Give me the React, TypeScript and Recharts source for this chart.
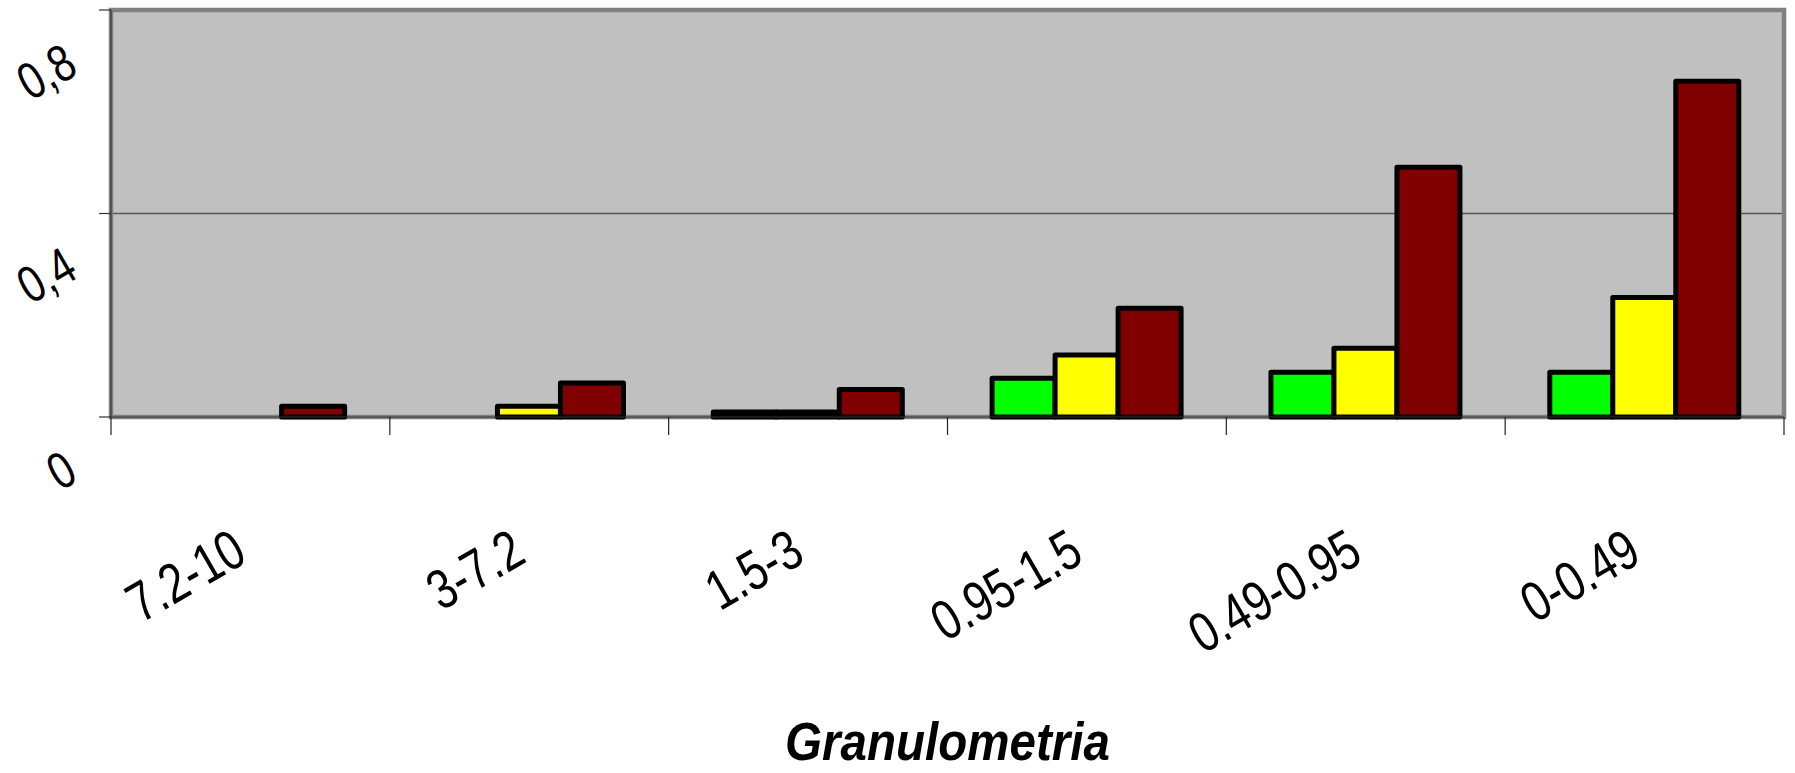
import { Bar, BarChart, CartesianGrid, Label, ReferenceArea, XAxis, YAxis } from "recharts";

// size classes (Granulometria), left to right
const categories = ["7.2-10", "3-7.2", "1.5-3", "0.95-1.5", "0.49-0.95", "0-0.49"];
const greenValues = [null, null, 0.01, 0.076, 0.088, 0.088];
const yellowValues = [null, 0.021, 0.01, 0.122, 0.135, 0.235];
const redValues = [0.021, 0.067, 0.054, 0.214, 0.491, 0.66];
const yTicks = [0, 0.4, 0.8];
const axisTitle = "Granulometria";

const data = categories.map((name, i) => ({
  name,
  green: greenValues[i],
  yellow: yellowValues[i],
  red: redValues[i],
}));

const W = 1795;
const H = 773;
const MARGIN = { top: 10, right: 11, left: 12, bottom: 0 };
const Y_AXIS_W = 99;
const X_AXIS_H = 356;
const PLOT_LEFT = MARGIN.left + Y_AXIS_W;
const PLOT_W = W - PLOT_LEFT - MARGIN.right;
const PLOT_BOTTOM = H - MARGIN.bottom - X_AXIS_H;
const BAND = PLOT_W / categories.length;
const FONT = '"Liberation Sans", Arial, Helvetica, sans-serif';

// the source renders its slanted labels in a tall, narrow face
function SlantText({ x, y, size, children }: any) {
  return (
    <text
      transform={`translate(${x} ${y}) rotate(-30) scale(0.79 1)`}
      textAnchor="end"
      fontSize={size}
      fontFamily={FONT}
      fill="#000"
    >
      {children}
    </text>
  );
}

// category labels sit at the band centre, tick marks at the band edges
function XTick({ x, payload, index }: any) {
  const i = index ?? payload?.index ?? 0;
  const last = i === categories.length - 1;
  return (
    <g>
      <line x1={x - BAND / 2} x2={x - BAND / 2} y1={PLOT_BOTTOM} y2={PLOT_BOTTOM + 18} stroke="#222" strokeWidth={1.2} />
      {last && (
        <line x1={x + BAND / 2} x2={x + BAND / 2} y1={PLOT_BOTTOM} y2={PLOT_BOTTOM + 18} stroke="#222" strokeWidth={1.2} />
      )}
      <SlantText x={x - 1} y={PLOT_BOTTOM + 144} size={56}>
        {payload.value}
      </SlantText>
    </g>
  );
}

function YTick({ y, payload }: any) {
  return (
    <SlantText x={80} y={y + 63} size={52}>
      {String(payload.value).replace(".", ",")}
    </SlantText>
  );
}

function AxisTitle() {
  const cx = PLOT_LEFT + PLOT_W / 2;
  return (
    <text
      transform={`translate(${cx} 760) scale(0.88 1)`}
      textAnchor="middle"
      fontSize={54}
      fontWeight="bold"
      fontStyle="italic"
      fontFamily={FONT}
      fill="#000"
    >
      {axisTitle}
    </text>
  );
}

export default function App() {
  return (
    <div style={{ position: "absolute", left: 0, top: 0, width: W, height: H, background: "#fff" }}>
      <BarChart width={W} height={H} data={data} margin={MARGIN} barCategoryGap="16%" barGap={0}>
        <CartesianGrid vertical={false} stroke="#555" strokeWidth={1.5} fill="#C0C0C0" fillOpacity={1} />
        <ReferenceArea y1={0} y2={0.8} fill="none" stroke="#808080" strokeWidth={4.5} ifOverflow="visible" />
        <XAxis
          dataKey="name"
          height={X_AXIS_H}
          interval={0}
          tickLine={false}
          axisLine={{ stroke: "#333", strokeWidth: 1.2 }}
          tick={<XTick />}
        >
          <Label content={() => <AxisTitle />} />
        </XAxis>
        <YAxis
          width={Y_AXIS_W}
          domain={[0, 0.8]}
          ticks={yTicks}
          interval={0}
          tickSize={12}
          tickLine={{ stroke: "#333", strokeWidth: 1.2 }}
          axisLine={{ stroke: "#333", strokeWidth: 1.2 }}
          tick={<YTick />}
        />
        <Bar dataKey="green" fill="#00FF00" stroke="#000" strokeWidth={5} strokeLinejoin="round" isAnimationActive={false} />
        <Bar dataKey="yellow" fill="#FFFF00" stroke="#000" strokeWidth={5} strokeLinejoin="round" isAnimationActive={false} />
        <Bar dataKey="red" fill="#800000" stroke="#000" strokeWidth={5} strokeLinejoin="round" isAnimationActive={false} />
      </BarChart>
    </div>
  );
}
